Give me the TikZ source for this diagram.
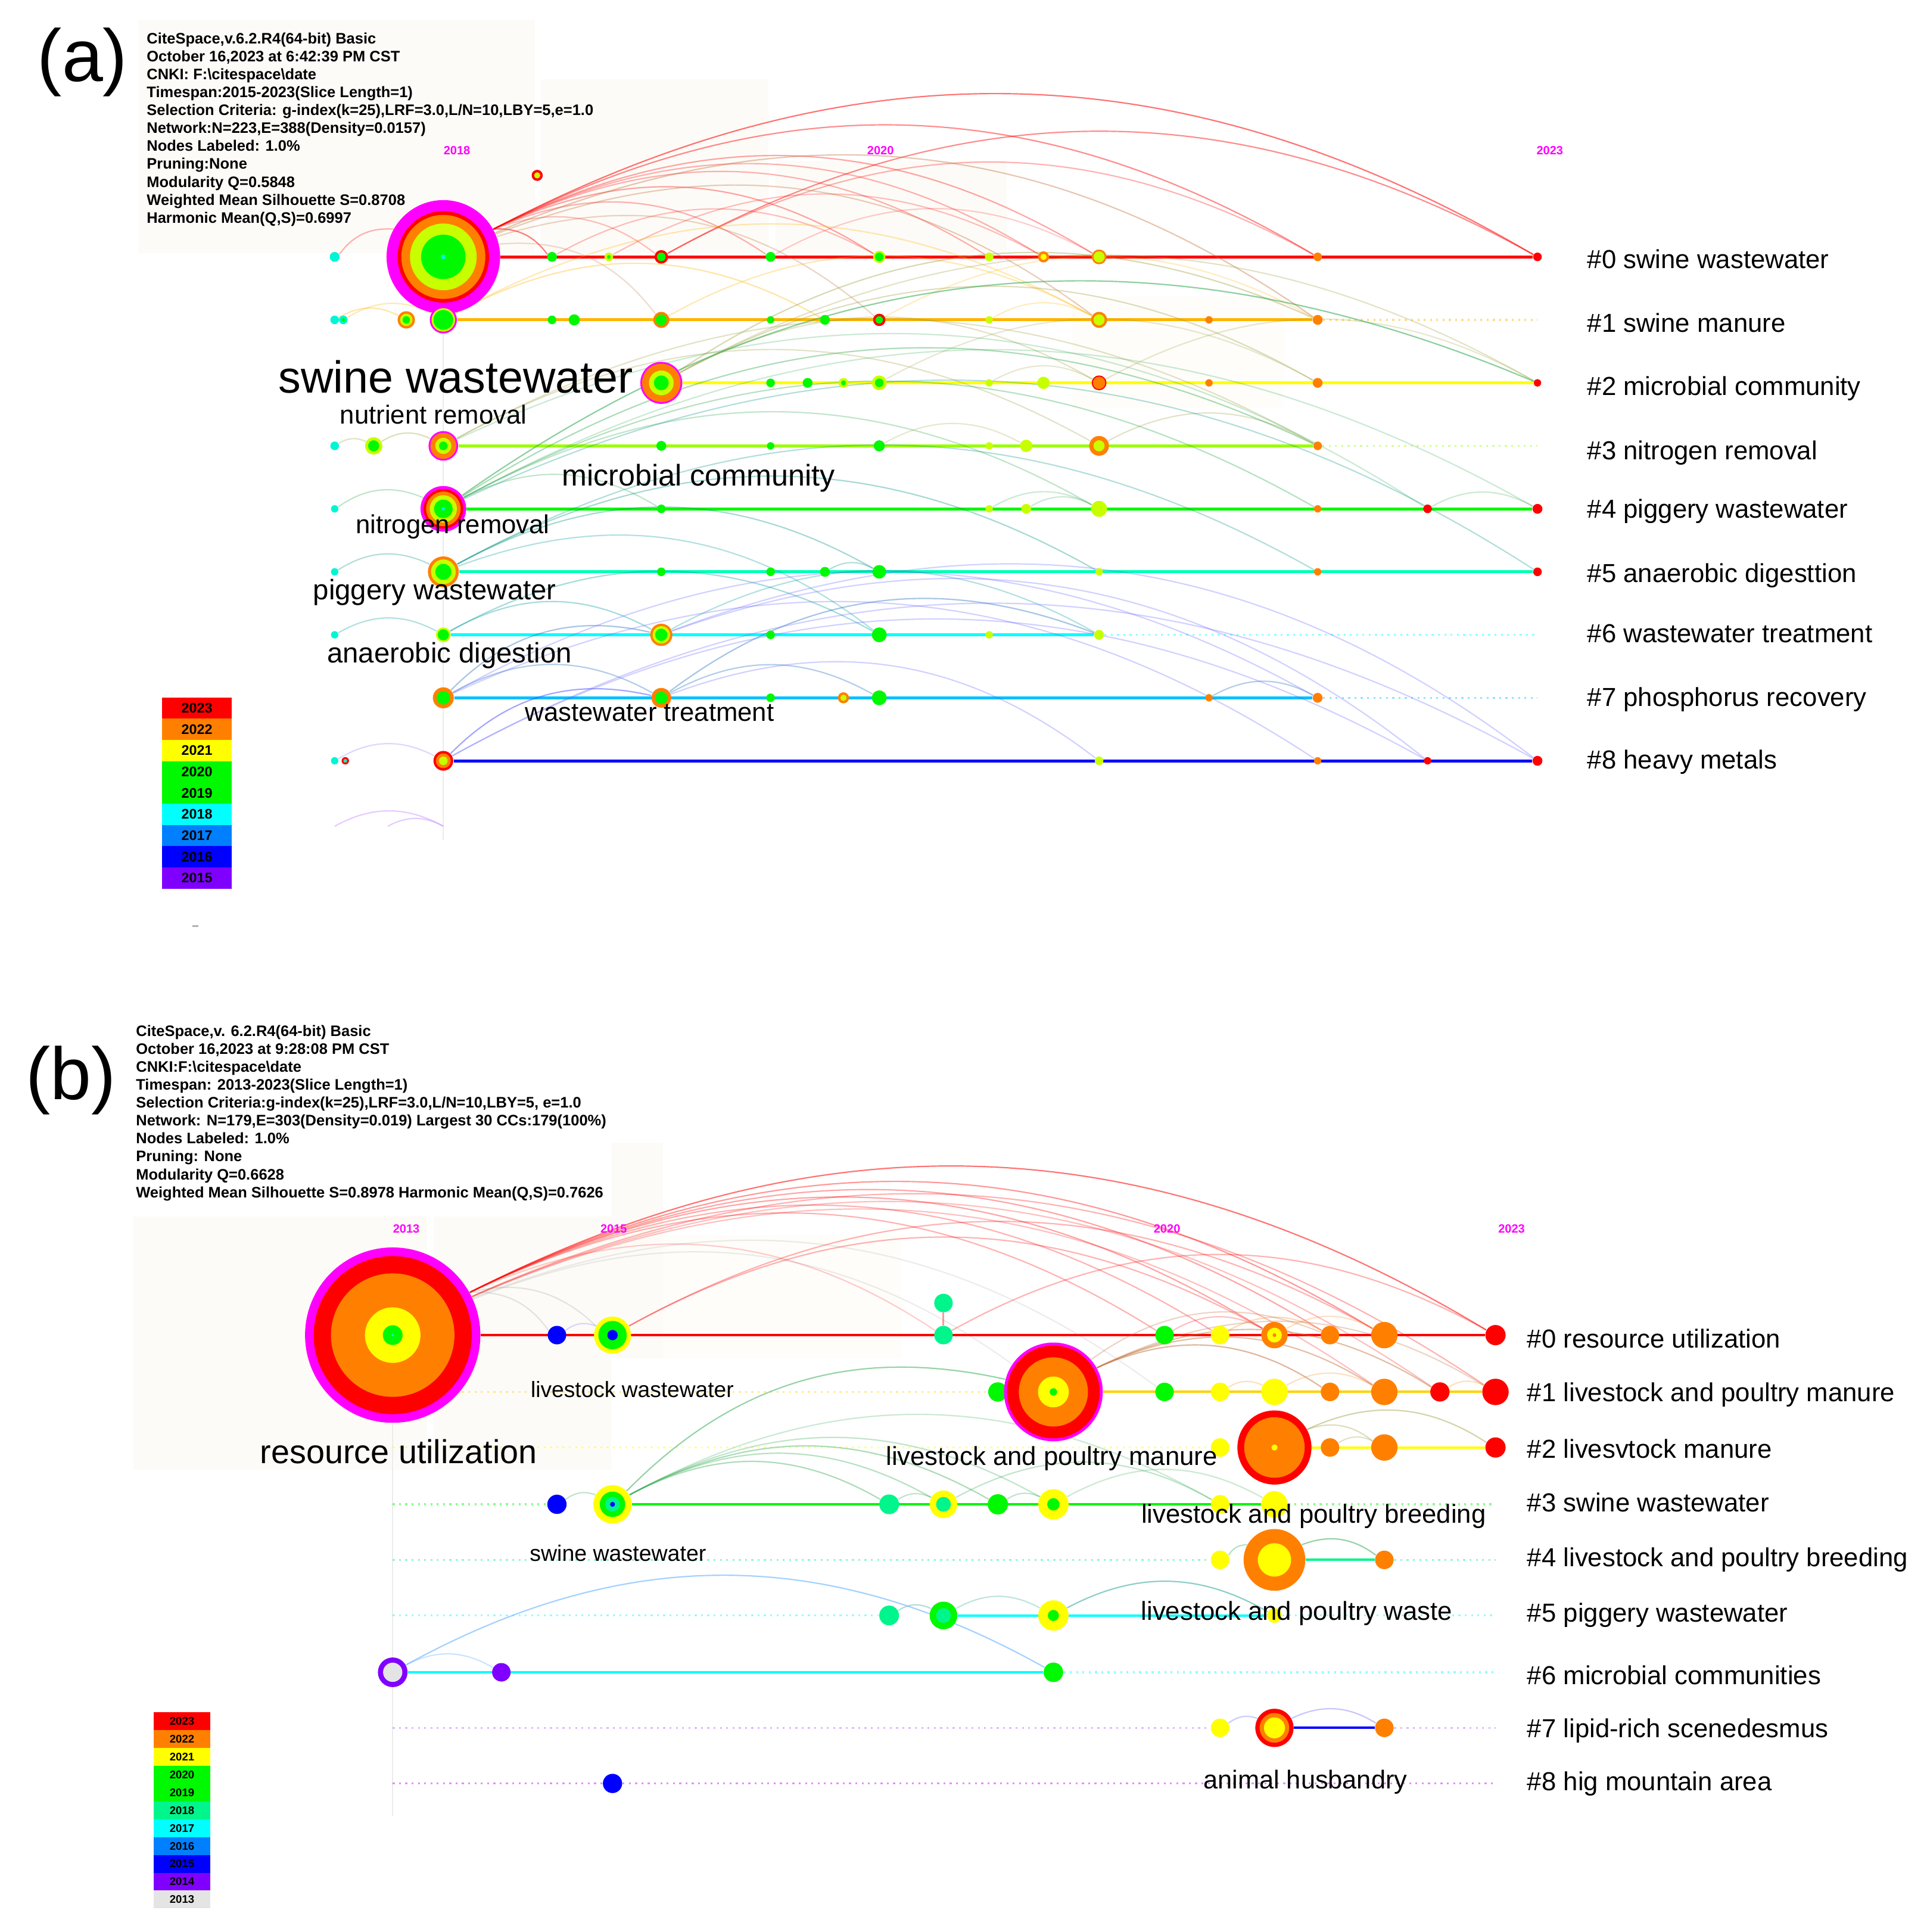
\documentclass[tikz,border=0pt]{standalone}
\usepackage{fontspec}
\setmainfont{Liberation Sans}
\definecolor{cred}{HTML}{FF0000}
\definecolor{corange}{HTML}{FF8000}
\definecolor{cyellow}{HTML}{FFFF00}
\definecolor{cyg}{HTML}{C8FF00}
\definecolor{cgreen}{HTML}{00F800}
\definecolor{cspring}{HTML}{00F58C}
\definecolor{cteal}{HTML}{00F5D5}
\definecolor{ccyan}{HTML}{00FFFF}
\definecolor{cazure}{HTML}{0080FF}
\definecolor{csky}{HTML}{00C0FF}
\definecolor{cblue}{HTML}{0000FF}
\definecolor{cviolet}{HTML}{8000FF}
\definecolor{cmag}{HTML}{FF00FF}
\definecolor{camber}{HTML}{FFB400}
\definecolor{cgold}{HTML}{FFD200}
\definecolor{cchart}{HTML}{99FF00}
\definecolor{caqua}{HTML}{00FFB4}
\definecolor{cbrown}{HTML}{C0703A}
\definecolor{colive}{HTML}{A0A040}
\definecolor{cdkgreen}{HTML}{2EA84E}
\definecolor{cgrey}{HTML}{E4E4E4}
\definecolor{ccream}{HTML}{FDFBF7}
\pgfdeclarelayer{bg}
\pgfdeclarelayer{links}
\pgfsetlayers{bg,links,main}
\begin{document}
\begin{tikzpicture}[x=0.02cm, y=-0.02cm,
        kw/.style={circle, inner sep=0pt, minimum size=#1*0.04cm},
        tl/.style={line width=1.4pt},
        td/.style={line width=0.9pt, dotted, opacity=.45},
        lnk/.style={line width=0.6pt, bend left=29},
        cl/.style={anchor=base west, inner sep=0pt, font=\fontsize{12}{14}\selectfont},
        kl/.style={anchor=base, inner sep=0pt},
        yr/.style={inner sep=0pt, text=cmag, font=\bfseries\fontsize{5.5}{6}\selectfont},
        hdr/.style={anchor=north west, inner sep=0pt, align=left, font=\bfseries\fontsize{7}{8.27}\selectfont},
        lga/.style={inner sep=0pt, minimum width=1.13cm, minimum height=0.344cm, font=\bfseries\fontsize{6.4}{7}\selectfont},
        lgb/.style={inner sep=0pt, minimum width=0.92cm, minimum height=0.2884cm, font=\bfseries\fontsize{5.1}{6}\selectfont}]
            \useasboundingbox (0,0) rectangle (1560,1564.3);
            \begin{pgfonlayer}{bg}
            \fill[ccream] (112,16) rectangle (433,205);
            \fill[ccream] (438,64) rectangle (622,205);
            \fill[ccream] (628,130) rectangle (815,205);
            \fill[ccream!60] (868,240) rectangle (1040,330);
            \fill[ccream] (108,985) rectangle (346,1190);
            \fill[ccream] (351,985) rectangle (495,1190);
            \fill[ccream] (495,925) rectangle (537,1100);
            \fill[ccream!60] (537,1000) rectangle (730,1100);
            \end{pgfonlayer}
            % panel (a)
            \node[font=\fontsize{34}{40}\selectfont, kl] (pa) at (66.8,65.7) {(a)};
            \node[hdr] (ha) at (118.5,26) {CiteSpace,v.6.2.R4(64-bit) Basic\\October 16,2023 at 6:42:39 PM CST\\CNKI: F:\textbackslash citespace\textbackslash date\\Timespan:2015-2023(Slice Length=1)\\Selection Criteria: g-index(k=25),LRF=3.0,L/N=10,LBY=5,e=1.0\\Network:N=223,E=388(Density=0.0157)\\Nodes Labeled: 1.0\%\\Pruning:None\\Modularity Q=0.5848\\Weighted Mean Silhouette S=0.8708\\Harmonic Mean(Q,S)=0.6997};
            \node[yr] (ya1) at (370,122) {2018};
            \node[yr] (ya2) at (713,122) {2020};
            \node[yr] (ya3) at (1255,122) {2023};
            \node[kw=46, fill=cmag] (a0b) at (359,208) {};
            \fill[cred] (a0b) circle (37);
            \fill[corange] (a0b) circle (34);
            \fill[cyg] (a0b) circle (27);
            \fill[cgreen] (a0b) circle (18);
            \fill[cteal] (a0b) circle (2);
            \node[kw=4, fill=cteal] (a0a) at (271,208) {};
            \node[kw=4, fill=cgreen] (a0c) at (447,208) {};
            \node[kw=3.5, fill=cyg] (a0d) at (493,208) {};
            \fill[cgreen] (a0d) circle (1.5);
            \node[kw=5.5, fill=cred] (a0e) at (535.5,208) {};
            \fill[cgreen] (a0e) circle (3.5);
            \node[kw=4, fill=cgreen] (a0f) at (624,208) {};
            \node[kw=5, fill=cyg] (a0g) at (712,208) {};
            \fill[cgreen] (a0g) circle (3.5);
            \node[kw=3.5, fill=cyg] (a0h) at (801,208) {};
            \node[kw=4.5, fill=corange] (a0i) at (845,208) {};
            \fill[cyellow] (a0i) circle (2.5);
            \node[kw=6, fill=corange] (a0j) at (890,208) {};
            \fill[cyg] (a0j) circle (4.5);
            \node[kw=3.5, fill=corange] (a0k) at (1067,208) {};
            \node[kw=3.5, fill=cred] (a0l) at (1245,208) {};
            \node[kw=4.5, fill=cred] (a0x) at (435,142) {};
            \fill[cyg] (a0x) circle (2.5);
            \node[kw=3.5, fill=cteal] (a1a) at (271,259) {};
            \node[kw=3.5, fill=cteal] (a1b) at (278,259) {};
            \fill[cgreen] (a1b) circle (1.5);
            \node[kw=7, fill=corange] (a1c) at (329,259) {};
            \fill[cyg] (a1c) circle (5);
            \fill[cgreen] (a1c) circle (3);
            \node[kw=11, fill=cmag] (a1d) at (359,259) {};
            \fill[cyg] (a1d) circle (9.5);
            \fill[cgreen] (a1d) circle (8);
            \node[kw=3.5, fill=cgreen] (a1e) at (447,259) {};
            \node[kw=4.5, fill=cgreen] (a1f) at (465,259) {};
            \node[kw=6.5, fill=corange] (a1g) at (535.5,259) {};
            \fill[cgreen] (a1g) circle (4.5);
            \node[kw=3, fill=cgreen] (a1h) at (624,259) {};
            \node[kw=4, fill=cgreen] (a1i) at (668,259) {};
            \node[kw=5, fill=cred] (a1j) at (712,259) {};
            \fill[cgreen] (a1j) circle (3);
            \node[kw=3, fill=cyg] (a1k) at (801,259) {};
            \node[kw=6.5, fill=corange] (a1l) at (890,259) {};
            \fill[cyg] (a1l) circle (4.5);
            \node[kw=3, fill=corange] (a1m) at (979,259) {};
            \node[kw=4, fill=corange] (a1n) at (1067,259) {};
            \coordinate (a1z) at (1245,259);
            \node[kw=17, fill=cmag] (a2a) at (535.5,310) {};
            \fill[corange] (a2a) circle (15.5);
            \fill[cyg] (a2a) circle (10);
            \fill[cgreen] (a2a) circle (6);
            \node[kw=3.5, fill=cgreen] (a2b) at (624,310) {};
            \node[kw=4, fill=cgreen] (a2c) at (654,310) {};
            \node[kw=4, fill=cyg] (a2d) at (683,310) {};
            \fill[cgreen] (a2d) circle (2);
            \node[kw=6, fill=cyg] (a2e) at (712,310) {};
            \fill[cgreen] (a2e) circle (3.5);
            \node[kw=3, fill=cyg] (a2f) at (801,310) {};
            \node[kw=5, fill=cyg] (a2g) at (845,310) {};
            \node[kw=6, fill=cred] (a2h) at (890,310) {};
            \fill[corange] (a2h) circle (5);
            \node[kw=3, fill=corange] (a2i) at (979,310) {};
            \node[kw=4, fill=corange] (a2j) at (1067,310) {};
            \node[kw=3, fill=cred] (a2k) at (1245,310) {};
            \node[kw=3.5, fill=cteal] (a3a) at (271,361) {};
            \node[kw=7, fill=cyg] (a3b) at (302.6,361) {};
            \fill[cgreen] (a3b) circle (4.5);
            \node[kw=12, fill=cmag] (a3c) at (359,361) {};
            \fill[corange] (a3c) circle (10.5);
            \fill[cyg] (a3c) circle (6.5);
            \fill[cgreen] (a3c) circle (3.5);
            \node[kw=4, fill=cgreen] (a3d) at (535.5,361) {};
            \node[kw=3, fill=cgreen] (a3e) at (624,361) {};
            \node[kw=4.5, fill=cgreen] (a3f) at (712,361) {};
            \node[kw=3, fill=cyg] (a3g) at (801,361) {};
            \node[kw=5, fill=cyg] (a3h) at (831,361) {};
            \node[kw=8, fill=corange] (a3i) at (890,361) {};
            \fill[cyg] (a3i) circle (4.5);
            \node[kw=3.5, fill=corange] (a3j) at (1067,361) {};
            \coordinate (a3z) at (1245,361);
            \node[kw=3, fill=cteal] (a4a) at (271,412) {};
            \node[kw=18.5, fill=cmag] (a4b) at (359,412) {};
            \fill[cred] (a4b) circle (16);
            \fill[corange] (a4b) circle (14);
            \fill[cyg] (a4b) circle (11);
            \fill[cgreen] (a4b) circle (7.5);
            \fill[cteal] (a4b) circle (1.5);
            \node[kw=3.5, fill=cgreen] (a4c) at (535.5,412) {};
            \node[kw=3, fill=cyg] (a4d) at (801,412) {};
            \node[kw=4, fill=cyg] (a4e) at (831,412) {};
            \node[kw=6.5, fill=cyg] (a4f) at (890,412) {};
            \node[kw=3, fill=corange] (a4g) at (1067,412) {};
            \node[kw=3.5, fill=cred] (a4h) at (1156,412) {};
            \node[kw=4, fill=cred] (a4i) at (1245,412) {};
            \node[kw=3, fill=cteal] (a5a) at (271,463) {};
            \node[kw=12.5, fill=corange] (a5b) at (359,463) {};
            \fill[cyg] (a5b) circle (10);
            \fill[cgreen] (a5b) circle (6.5);
            \node[kw=3.5, fill=cgreen] (a5c) at (535.5,463) {};
            \node[kw=3.5, fill=cgreen] (a5d) at (624,463) {};
            \node[kw=4, fill=cgreen] (a5e) at (668,463) {};
            \node[kw=5.5, fill=cgreen] (a5f) at (712,463) {};
            \node[kw=3, fill=cyg] (a5g) at (890,463) {};
            \node[kw=3, fill=corange] (a5h) at (1067,463) {};
            \node[kw=3.5, fill=cred] (a5i) at (1245,463) {};
            \node[kw=3, fill=cteal] (a6a) at (271,514) {};
            \node[kw=6, fill=cyg] (a6b) at (359,514) {};
            \fill[cgreen] (a6b) circle (4.5);
            \node[kw=9, fill=corange] (a6c) at (535.5,514) {};
            \fill[cyg] (a6c) circle (7);
            \fill[cgreen] (a6c) circle (5);
            \node[kw=3.5, fill=cgreen] (a6d) at (624,514) {};
            \node[kw=6, fill=cgreen] (a6e) at (712,514) {};
            \node[kw=3, fill=cyg] (a6f) at (801,514) {};
            \node[kw=4, fill=cyg] (a6g) at (890,514) {};
            \coordinate (a6z) at (1245,514);
            \node[kw=8.5, fill=corange] (a7a) at (359,565) {};
            \fill[cgreen] (a7a) circle (5.5);
            \node[kw=8, fill=corange] (a7b) at (535.5,565) {};
            \fill[cgreen] (a7b) circle (5);
            \node[kw=3.5, fill=cgreen] (a7c) at (624,565) {};
            \node[kw=4.5, fill=corange] (a7d) at (683,565) {};
            \fill[cyg] (a7d) circle (2.5);
            \node[kw=6, fill=cgreen] (a7e) at (712,565) {};
            \node[kw=3, fill=corange] (a7f) at (979,565) {};
            \node[kw=4, fill=corange] (a7g) at (1067,565) {};
            \coordinate (a7z) at (1245,565);
            \node[kw=3, fill=cteal] (a8a) at (271,616) {};
            \node[kw=3, fill=cred] (a8b) at (279.6,616) {};
            \fill[cteal] (a8b) circle (1.5);
            \node[kw=8, fill=cred] (a8c) at (359,616) {};
            \fill[corange] (a8c) circle (6);
            \fill[cyg] (a8c) circle (3.5);
            \node[kw=3.5, fill=cyg] (a8d) at (890,616) {};
            \node[kw=3, fill=corange] (a8e) at (1067,616) {};
            \node[kw=3, fill=cred] (a8f) at (1156,616) {};
            \node[kw=4, fill=cred] (a8g) at (1245,616) {};
            \coordinate (a9a) at (271,669);
            \coordinate (a9b) at (314,669);
            \coordinate (a9c) at (359,669);
            \coordinate (a9d) at (359,680);
            \begin{pgfonlayer}{links}
            \draw[gray!15, line width=0.6pt] (a0b) -- (a9d);
            \draw[tl, cred] (a0b) -- (a0l);
            \draw[tl, camber] (a1d) -- (a1n);
            \draw[td, camber] (a1n) -- (a1z);
            \draw[tl, cyellow] (a2a) -- (a2k);
            \draw[tl, cchart] (a3c) -- (a3j);
            \draw[td, cchart] (a3j) -- (a3z);
            \draw[tl, cgreen] (a4b) -- (a4i);
            \draw[tl, caqua] (a5b) -- (a5i);
            \draw[tl, ccyan] (a6b) -- (a6g);
            \draw[td, ccyan] (a6g) -- (a6z);
            \draw[tl, csky] (a7a) -- (a7g);
            \draw[td, csky] (a7g) -- (a7z);
            \draw[tl, cblue] (a8c) -- (a8g);
            \draw[lnk, cred, opacity=.55] (a0b) to (a0l);
            \draw[lnk, cred, opacity=.45] (a0b) to (a0k);
            \draw[lnk, cred, opacity=.35] (a0b) to (a0j);
            \draw[lnk, cred, opacity=.3] (a0b) to (a0i);
            \draw[lnk, cred, opacity=.3] (a0b) to (a0h);
            \draw[lnk, cred, opacity=.35] (a0b) to (a0g);
            \draw[lnk, cred, opacity=.3] (a0b) to (a0f);
            \draw[lnk, cred, opacity=.5] (a0b) to (a0c);
            \draw[lnk, cred, opacity=.25] (a0b) to (a0e);
            \draw[lnk, cred, opacity=.45] (a0e) to (a0l);
            \draw[lnk, cred, opacity=.3] (a0e) to (a0k);
            \draw[lnk, cred, opacity=.25] (a0c) to (a0g);
            \draw[lnk, cred, opacity=.25] (a0d) to (a0i);
            \draw[lnk, cred, opacity=.2] (a0f) to (a0j);
            \draw[lnk, cred, opacity=.3] (a0a) to (a0b);
            \draw[lnk, cbrown, opacity=.4] (a0b) to (a1n);
            \draw[lnk, cbrown, opacity=.35] (a0b) to (a1l);
            \draw[lnk, cbrown, opacity=.3] (a0b) to (a1j);
            \draw[lnk, cbrown, opacity=.25] (a0b) to (a1g);
            \draw[lnk, camber, opacity=.35] (a1a) to (a1c);
            \draw[lnk, camber, opacity=.3] (a1b) to (a1d);
            \draw[lnk, camber, opacity=.35] (a1d) to (a1i);
            \draw[lnk, camber, opacity=.3] (a1d) to (a1l);
            \draw[lnk, camber, opacity=.3] (a1g) to (a1l);
            \draw[lnk, camber, opacity=.25] (a1j) to (a1n);
            \draw[lnk, camber, opacity=.25] (a1k) to (a1l);
            \draw[lnk, colive, opacity=.4] (a2a) to (a1n);
            \draw[lnk, colive, opacity=.35] (a2a) to (a2j);
            \draw[lnk, colive, opacity=.3] (a2a) to (a2k);
            \draw[lnk, colive, opacity=.3] (a2a) to (a2h);
            \draw[lnk, colive, opacity=.25] (a2e) to (a2j);
            \draw[lnk, colive, opacity=.25] (a2f) to (a2h);
            \draw[lnk, colive, opacity=.25] (a2h) to (a2k);
            \draw[lnk, colive, opacity=.3] (a3a) to (a3b);
            \draw[lnk, colive, opacity=.35] (a3b) to (a3c);
            \draw[lnk, colive, opacity=.3] (a3c) to (a3i);
            \draw[lnk, colive, opacity=.3] (a3c) to (a3j);
            \draw[lnk, colive, opacity=.3] (a3i) to (a3j);
            \draw[lnk, colive, opacity=.25] (a3f) to (a3h);
            \draw[lnk, cdkgreen, opacity=.55] (a4b) to (a2k);
            \draw[lnk, cdkgreen, opacity=.4] (a4b) to (a3j);
            \draw[lnk, cdkgreen, opacity=.35] (a4b) to (a4g);
            \draw[lnk, cdkgreen, opacity=.3] (a4b) to (a4f);
            \draw[lnk, cdkgreen, opacity=.3] (a4b) to (a4c);
            \draw[lnk, cdkgreen, opacity=.25] (a4b) to (a4i);
            \draw[lnk, cdkgreen, opacity=.3] (a4a) to (a4b);
            \draw[lnk, cdkgreen, opacity=.25] (a4d) to (a4f);
            \draw[lnk, cdkgreen, opacity=.25] (a4e) to (a4f);
            \draw[lnk, cdkgreen, opacity=.25] (a4h) to (a4i);
            \draw[lnk, cdkgreen, opacity=.25] (a3c) to (a4h);
            \draw[lnk, cteal!60!black, opacity=.3] (a5a) to (a5b);
            \draw[lnk, cteal!60!black, opacity=.35] (a5b) to (a5f);
            \draw[lnk, cteal!60!black, opacity=.35] (a5b) to (a5g);
            \draw[lnk, cteal!60!black, opacity=.3] (a5e) to (a5f);
            \draw[lnk, cteal!60!black, opacity=.3] (a5b) to (a5h);
            \draw[lnk, cteal!60!black, opacity=.3] (a4b) to (a5i);
            \draw[lnk, ccyan!60!black, opacity=.3] (a6a) to (a6b);
            \draw[lnk, ccyan!60!black, opacity=.35] (a6b) to (a6c);
            \draw[lnk, ccyan!60!black, opacity=.35] (a6b) to (a6e);
            \draw[lnk, ccyan!60!black, opacity=.3] (a6c) to (a6g);
            \draw[lnk, ccyan!60!black, opacity=.3] (a5b) to (a6e);
            \draw[lnk, cazure!70!black, opacity=.35] (a7a) to (a6c);
            \draw[lnk, cazure!70!black, opacity=.3] (a7a) to (a7b);
            \draw[lnk, cazure!70!black, opacity=.35] (a7b) to (a6g);
            \draw[lnk, cazure!70!black, opacity=.3] (a7b) to (a7e);
            \draw[lnk, cazure!70!black, opacity=.3] (a7f) to (a7g);
            \draw[lnk, cblue!70, opacity=.5] (a8c) to (a7b);
            \draw[lnk, cblue!60, opacity=.3] (a8c) to (a8g);
            \draw[lnk, cblue!60, opacity=.3] (a8c) to (a8f);
            \draw[lnk, cblue!60, opacity=.3] (a6c) to (a8g);
            \draw[lnk, cblue!60, opacity=.3] (a6c) to (a8f);
            \draw[lnk, cblue!60, opacity=.3] (a7a) to (a8e);
            \draw[lnk, cblue!60, opacity=.3] (a7b) to (a8d);
            \draw[lnk, cblue!60, opacity=.3] (a7a) to (a7g);
            \draw[lnk, cblue!60, opacity=.25] (a8a) to (a8c);
            \draw[lnk, cviolet!40, opacity=.5] (a9a) to (a9c);
            \draw[lnk, cviolet!40, opacity=.5] (a9b) to (a9c);
            \end{pgfonlayer}
            \node[kl, font=\fontsize{20.7}{24}\selectfont] (ka1) at (369,318) {swine wastewater};
            \node[kl, font=\fontsize{12}{14}\selectfont] (ka2) at (351,343) {nutrient removal};
            \node[kl, font=\fontsize{13.8}{16}\selectfont] (ka3) at (565.5,393.4) {microbial community};
            \node[kl, font=\fontsize{12}{14}\selectfont] (ka4) at (366.6,432) {nitrogen removal};
            \node[kl, font=\fontsize{13}{15}\selectfont] (ka5) at (352,485.6) {piggery wastewater};
            \node[kl, font=\fontsize{13}{15}\selectfont] (ka6) at (364,536.4) {anaerobic digestion};
            \node[kl, font=\fontsize{12}{14}\selectfont] (ka7) at (526,583.7) {wastewater treatment};
            \node[cl] (la0) at (1285,217.1) {\#0 swine wastewater};
            \node[cl] (la1) at (1285,268.7) {\#1 swine manure};
            \node[cl] (la2) at (1285,320.2) {\#2 microbial community};
            \node[cl] (la3) at (1285,371.9) {\#3 nitrogen removal};
            \node[cl] (la4) at (1285,419.6) {\#4 piggery wastewater};
            \node[cl] (la5) at (1285,471.3) {\#5 anaerobic digesttion};
            \node[cl] (la6) at (1285,520) {\#6 wastewater treatment};
            \node[cl] (la7) at (1285,571.9) {\#7 phosphorus recovery};
            \node[cl] (la8) at (1285,622.6) {\#8 heavy metals};
            \node[lga, fill=cred] (ga1) at (159.5,573.3) {2023};
            \node[lga, fill=corange] (ga2) at (159.5,590.5) {2022};
            \node[lga, fill=cyellow] (ga3) at (159.5,607.7) {2021};
            \node[lga, fill=cgreen] (ga4) at (159.5,624.9) {2020};
            \node[lga, fill=cgreen] (ga5) at (159.5,642.1) {2019};
            \node[lga, fill=ccyan] (ga6) at (159.5,659.3) {2018};
            \node[lga, fill=cazure] (ga7) at (159.5,676.5) {2017};
            \node[lga, fill=cblue] (ga8) at (159.5,693.7) {2016};
            \node[lga, fill=cviolet] (ga9) at (159.5,710.9) {2015};
            \draw[gray!60, line width=0.8pt] (155.7,750) -- (160.8,750);
            % panel (b)
            \node[font=\fontsize{34}{40}\selectfont, kl] (pb) at (57.5,890) {(b)};
            \node[hdr] (hb) at (109.8,829.6) {CiteSpace,v. 6.2.R4(64-bit) Basic\\October 16,2023 at 9:28:08 PM CST\\CNKI:F:\textbackslash citespace\textbackslash date\\Timespan: 2013-2023(Slice Length=1)\\Selection Criteria:g-index(k=25),LRF=3.0,L/N=10,LBY=5, e=1.0\\Network: N=179,E=303(Density=0.019) Largest 30 CCs:179(100\%)\\Nodes Labeled: 1.0\%\\Pruning: None\\Modularity Q=0.6628\\Weighted Mean Silhouette S=0.8978 Harmonic Mean(Q,S)=0.7626};
            \node[yr] (yb1) at (329,995) {2013};
            \node[yr] (yb2) at (497,995) {2015};
            \node[yr] (yb3) at (945,995) {2020};
            \node[yr] (yb4) at (1224,995) {2023};
            \node[kw=71, fill=cmag] (b0a) at (318,1081) {};
            \fill[cred] (b0a) circle (64);
            \fill[corange] (b0a) circle (50);
            \fill[cyellow] (b0a) circle (22.5);
            \fill[cgreen] (b0a) circle (8);
            \fill[cteal] (b0a) circle (1);
            \node[kw=7.5, fill=cblue] (b0b) at (451,1081) {};
            \node[kw=15, fill=cyellow] (b0c) at (496,1081) {};
            \fill[cgreen] (b0c) circle (11.5);
            \fill[cblue] (b0c) circle (4.2);
            \node[kw=7.5, fill=cspring] (b0d) at (764,1081) {};
            \node[kw=7.5, fill=cspring] (b0u) at (764,1055) {};
            \node[kw=7.5, fill=cgreen] (b0e) at (943,1081) {};
            \node[kw=7.5, fill=cyellow] (b0f) at (988,1081) {};
            \node[kw=10.7, fill=corange] (b0g) at (1032,1081) {};
            \fill[cyellow] (b0g) circle (6);
            \fill[corange] (b0g) circle (1.5);
            \node[kw=7.5, fill=corange] (b0h) at (1077,1081) {};
            \node[kw=10.7, fill=corange] (b0i) at (1121,1081) {};
            \node[kw=8.2, fill=cred] (b0j) at (1211,1081) {};
            \coordinate (b1s) at (318,1127);
            \node[kw=7.8, fill=cgreen] (b1a) at (808,1127) {};
            \node[kw=40, fill=cmag] (b1b) at (853,1127) {};
            \fill[cred] (b1b) circle (37.5);
            \fill[corange] (b1b) circle (28);
            \fill[cyellow] (b1b) circle (12.5);
            \fill[cgreen] (b1b) circle (3);
            \node[kw=7.5, fill=cgreen] (b1c) at (943,1127) {};
            \node[kw=7.5, fill=cyellow] (b1d) at (988,1127) {};
            \node[kw=10.7, fill=cyellow] (b1e) at (1032,1127) {};
            \node[kw=7.5, fill=corange] (b1f) at (1077,1127) {};
            \node[kw=10.7, fill=corange] (b1g) at (1121,1127) {};
            \node[kw=7.8, fill=cred] (b1h) at (1166,1127) {};
            \node[kw=10.7, fill=cred] (b1i) at (1211,1127) {};
            \coordinate (b2s) at (318,1172);
            \node[kw=7.5, fill=cyellow] (b2a) at (988,1172) {};
            \node[kw=30, fill=cred] (b2b) at (1032,1172) {};
            \fill[corange] (b2b) circle (24.5);
            \fill[cyellow] (b2b) circle (2.5);
            \node[kw=7.5, fill=corange] (b2c) at (1077,1172) {};
            \node[kw=10.7, fill=corange] (b2d) at (1121,1172) {};
            \node[kw=8.2, fill=cred] (b2e) at (1211,1172) {};
            \coordinate (b3s) at (318,1218);
            \node[kw=7.8, fill=cblue] (b3a) at (451,1218) {};
            \node[kw=15.5, fill=cyellow] (b3b) at (496,1218) {};
            \fill[cgreen] (b3b) circle (10.3);
            \fill[cspring] (b3b) circle (6);
            \fill[cblue] (b3b) circle (2);
            \node[kw=8, fill=cspring] (b3c) at (720,1218) {};
            \node[kw=11.2, fill=cyellow] (b3d) at (764,1218) {};
            \fill[cspring] (b3d) circle (6);
            \node[kw=8.2, fill=cgreen] (b3e) at (808,1218) {};
            \node[kw=12.3, fill=cyellow] (b3f) at (853,1218) {};
            \fill[cgreen] (b3f) circle (5);
            \node[kw=7.5, fill=cyellow] (b3g) at (988,1218) {};
            \node[kw=10.7, fill=cyellow] (b3h) at (1032,1218) {};
            \coordinate (b3z) at (1211,1218);
            \coordinate (b4s) at (318,1263);
            \node[kw=7.5, fill=cyellow] (b4a) at (988,1263) {};
            \node[kw=25, fill=corange] (b4b) at (1032,1263) {};
            \fill[cyellow] (b4b) circle (13.5);
            \node[kw=7.5, fill=corange] (b4c) at (1121,1263) {};
            \coordinate (b4z) at (1211,1263);
            \coordinate (b5s) at (318,1308);
            \node[kw=8, fill=cspring] (b5a) at (720,1308) {};
            \node[kw=11.2, fill=cgreen] (b5b) at (764,1308) {};
            \fill[cspring] (b5b) circle (6);
            \node[kw=12.3, fill=cyellow] (b5c) at (853,1308) {};
            \fill[cgreen] (b5c) circle (4.5);
            \node[kw=6, fill=cyellow] (b5d) at (1032,1308) {};
            \coordinate (b5z) at (1211,1308);
            \node[kw=12, fill=cviolet] (b6a) at (318,1354) {};
            \fill[cgrey] (b6a) circle (7.8);
            \node[kw=7.5, fill=cviolet] (b6b) at (406,1354) {};
            \node[kw=7.9, fill=cgreen] (b6c) at (853,1354) {};
            \coordinate (b6z) at (1211,1354);
            \coordinate (b7s) at (318,1399);
            \node[kw=7.5, fill=cyellow] (b7a) at (988,1399) {};
            \node[kw=15.5, fill=cred] (b7b) at (1032,1399) {};
            \fill[corange] (b7b) circle (12);
            \fill[cyellow] (b7b) circle (8.5);
            \node[kw=7.5, fill=corange] (b7c) at (1121,1399) {};
            \coordinate (b7z) at (1211,1399);
            \coordinate (b8s) at (318,1444);
            \node[kw=7.8, fill=cblue] (b8a) at (496,1444) {};
            \coordinate (b8z) at (1211,1444);
            \coordinate (b9) at (318,1470);
            \begin{pgfonlayer}{links}
            \draw[gray!15, line width=0.6pt] (b0a) -- (b9);
            \draw[tl, cred, line width=1.1pt] (b0a) -- (b0j);
            \draw[cred!40, line width=0.8pt] (b0u) -- (b0d);
            \draw[td, cgold] (b1s) -- (b1a);
            \draw[tl, cgold, line width=1.1pt] (b1b) -- (b1i);
            \draw[td, cyellow] (b2s) -- (b2a);
            \draw[tl, cyellow, line width=1.1pt] (b2b) -- (b2e);
            \draw[td, cgreen] (b3s) -- (b3a);
            \draw[tl, cgreen, line width=1.1pt] (b3b) -- (b3h);
            \draw[td, cgreen] (b3h) -- (b3z);
            \draw[td, cspring] (b4s) -- (b4a);
            \draw[tl, cspring, line width=1.1pt] (b4b) -- (b4c);
            \draw[td, cspring] (b4c) -- (b4z);
            \draw[td, ccyan] (b5s) -- (b5a);
            \draw[tl, ccyan, line width=1.1pt] (b5b) -- (b5d);
            \draw[td, ccyan] (b5d) -- (b5z);
            \draw[tl, ccyan, line width=1.1pt] (b6a) -- (b6c);
            \draw[td, ccyan] (b6c) -- (b6z);
            \draw[td, cviolet!60] (b7s) -- (b7a);
            \draw[tl, cblue, line width=1.1pt] (b7b) -- (b7c);
            \draw[td, cviolet!60] (b7c) -- (b7z);
            \draw[td, cmag!60!cviolet] (b8s) -- (b8a);
            \draw[td, cmag!60!cviolet] (b8a) -- (b8z);
            \draw[lnk, cred, opacity=.55] (b0a) to (b0j);
            \draw[lnk, cred, opacity=.4] (b0a) to (b0i);
            \draw[lnk, cred, opacity=.35] (b0a) to (b0h);
            \draw[lnk, cred, opacity=.35] (b0a) to (b0g);
            \draw[lnk, cred, opacity=.3] (b0a) to (b0f);
            \draw[lnk, cred, opacity=.3] (b0a) to (b0e);
            \draw[lnk, cred, opacity=.3] (b0a) to (b1i);
            \draw[lnk, cred, opacity=.25] (b0a) to (b1h);
            \draw[lnk, cred, opacity=.25] (b0a) to (b1g);
            \draw[lnk, cred, opacity=.2] (b0a) to (b0d);
            \draw[lnk, cred, opacity=.3] (b0c) to (b0g);
            \draw[lnk, cred, opacity=.3] (b0c) to (b0i);
            \draw[lnk, cred, opacity=.3] (b0d) to (b0j);
            \draw[lnk, cred, opacity=.25] (b0e) to (b0g);
            \draw[lnk, gray, opacity=.2] (b0a) to (b0b);
            \draw[lnk, gray, opacity=.2] (b0a) to (b0c);
            \draw[lnk, gray, opacity=.15] (b0a) to (b1b);
            \draw[lnk, gray, opacity=.15] (b0a) to (b1c);
            \draw[lnk, cblue!50, opacity=.3] (b0b) to (b0c);
            \draw[lnk, corange, opacity=.3] (b0f) to (b0h);
            \draw[lnk, corange, opacity=.25] (b0g) to (b0i);
            \draw[lnk, cbrown, opacity=.5] (b1b) to (b1f);
            \draw[lnk, cbrown, opacity=.45] (b1b) to (b1g);
            \draw[lnk, cbrown, opacity=.45] (b1b) to (b1h);
            \draw[lnk, cbrown, opacity=.3] (b1b) to (b1i);
            \draw[lnk, cbrown, opacity=.3] (b1b) to (b0h);
            \draw[lnk, corange, opacity=.25] (b1d) to (b1e);
            \draw[lnk, corange, opacity=.25] (b1e) to (b1g);
            \draw[lnk, corange, opacity=.25] (b1h) to (b1i);
            \draw[lnk, colive, opacity=.45] (b2b) to (b2e);
            \draw[lnk, colive, opacity=.35] (b2b) to (b2d);
            \draw[lnk, colive, opacity=.3] (b2c) to (b2d);
            \draw[lnk, cdkgreen, opacity=.5] (b3b) to (b1b);
            \draw[lnk, cdkgreen, opacity=.4] (b3b) to (b3c);
            \draw[lnk, cdkgreen, opacity=.35] (b3b) to (b3d);
            \draw[lnk, cdkgreen, opacity=.4] (b3b) to (b3e);
            \draw[lnk, cdkgreen, opacity=.3] (b3b) to (b3f);
            \draw[lnk, cdkgreen, opacity=.25] (b3b) to (b3g);
            \draw[lnk, cdkgreen, opacity=.3] (b3a) to (b3b);
            \draw[lnk, cdkgreen, opacity=.3] (b3c) to (b3d);
            \draw[lnk, cdkgreen, opacity=.3] (b3e) to (b3f);
            \draw[lnk, cdkgreen, opacity=.3] (b3d) to (b3g);
            \draw[lnk, cdkgreen, opacity=.25] (b3f) to (b3h);
            \draw[lnk, cdkgreen, opacity=.5] (b4b) to (b4c);
            \draw[lnk, cdkgreen, opacity=.35] (b4a) to (b4b);
            \draw[lnk, cteal!60!black, opacity=.3] (b5a) to (b5b);
            \draw[lnk, cteal!60!black, opacity=.25] (b5b) to (b5c);
            \draw[lnk, cteal!60!black, opacity=.45] (b5c) to (b5d);
            \draw[lnk, cazure!60, opacity=.6] (b6a) to (b6c);
            \draw[lnk, cazure!60, opacity=.35] (b6a) to (b6b);
            \draw[lnk, cblue!50, opacity=.4] (b7a) to (b7b);
            \draw[lnk, cblue!50, opacity=.45] (b7b) to (b7c);
            \end{pgfonlayer}
            \node[kl, font=\fontsize{15.3}{18}\selectfont] (kb1) at (322.8,1184.8) {resource utilization};
            \node[kl, font=\fontsize{10.2}{12}\selectfont] (kb2) at (512,1131.2) {livestock wastewater};
            \node[kl, font=\fontsize{12}{14}\selectfont] (kb3) at (851.6,1186.2) {livestock and poultry manure};
            \node[kl, font=\fontsize{12}{14}\selectfont] (kb4) at (1063.8,1233) {livestock and poultry breeding};
            \node[kl, font=\fontsize{10.3}{12}\selectfont] (kb5) at (500.4,1264) {swine wastewater};
            \node[kl, font=\fontsize{12}{14}\selectfont] (kb6) at (1050,1312) {livestock and poultry waste};
            \node[kl, font=\fontsize{11.9}{14}\selectfont] (kb7) at (1057,1448.3) {animal husbandry};
            \node[cl] (lb0) at (1236.4,1091.5) {\#0 resource utilization};
            \node[cl] (lb1) at (1236.4,1134.6) {\#1 livestock and poultry manure};
            \node[cl] (lb2) at (1236.4,1180.7) {\#2 livesvtock manure};
            \node[cl] (lb3) at (1236.4,1223.8) {\#3 swine wastewater};
            \node[cl] (lb4) at (1236.4,1268.3) {\#4 livestock and poultry breeding};
            \node[cl] (lb5) at (1236.4,1313) {\#5 piggery wastewater};
            \node[cl] (lb6) at (1236.4,1363.8) {\#6 microbial communities};
            \node[cl] (lb7) at (1236.4,1406.8) {\#7 lipid-rich scenedesmus};
            \node[cl] (lb8) at (1236.4,1449.9) {\#8 hig mountain area};
            \node[lgb, fill=cred] (gb1) at (147.4,1393.7) {2023};
            \node[lgb, fill=corange] (gb2) at (147.4,1408.1) {2022};
            \node[lgb, fill=cyellow] (gb3) at (147.4,1422.6) {2021};
            \node[lgb, fill=cgreen] (gb4) at (147.4,1437.0) {2020};
            \node[lgb, fill=cgreen] (gb5) at (147.4,1451.4) {2019};
            \node[lgb, fill=cspring] (gb6) at (147.4,1465.8) {2018};
            \node[lgb, fill=ccyan] (gb7) at (147.4,1480.2) {2017};
            \node[lgb, fill=cazure] (gb8) at (147.4,1494.7) {2016};
            \node[lgb, fill=cblue] (gb9) at (147.4,1509.1) {2015};
            \node[lgb, fill=cviolet] (gb10) at (147.4,1523.5) {2014};
            \node[lgb, fill=cgrey] (gb11) at (147.4,1537.9) {2013};
        \end{tikzpicture}
\end{document}
